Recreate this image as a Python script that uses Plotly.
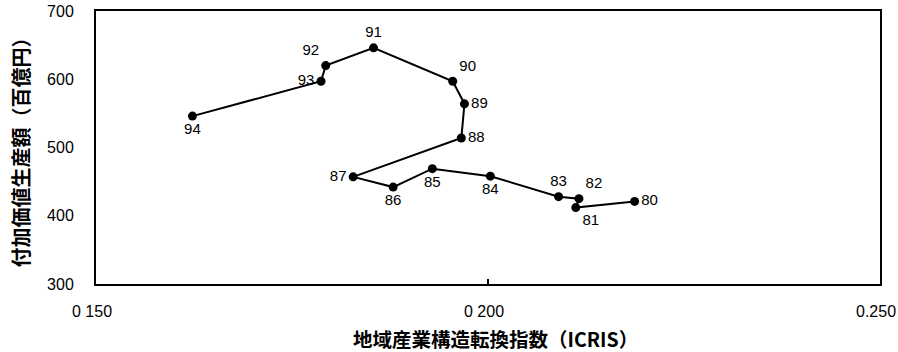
import plotly.graph_objects as go

years = ["80", "81", "82", "83", "84", "85", "86", "87", "88", "89", "90", "91", "92", "93", "94"]
icris = [0.2187, 0.2112, 0.2116, 0.2090, 0.2003, 0.1929, 0.1879, 0.1828, 0.1966, 0.1970, 0.1955, 0.1854, 0.1793, 0.1787, 0.1623]
value_added = [421, 412, 425, 428, 458, 469, 442, 457, 514, 564, 597, 646, 620, 597, 546]
label_pos = ["middle right", "bottom right", "top right", "top center", "bottom center",
             "bottom center", "bottom center", "middle left", "middle right", "middle right",
             "top right", "top center", "top left", "middle left", "bottom center"]

x_tickvals = [0.150, 0.200, 0.250]
x_ticktext = ["0 150", "0 200", "0.250"]
y_tickvals = [300, 400, 500, 600, 700]
y_ticktext = ["300", "400", "500", "600", "700"]

num_font = "Liberation Sans, Arial, sans-serif"
cjk_font = "Noto Sans CJK JP, sans-serif"

fig = go.Figure()
fig.add_trace(go.Scatter(
    x=icris, y=value_added, mode="lines+markers+text",
    text=years, textposition=label_pos,
    textfont=dict(family=num_font, size=15, color="black"),
    line=dict(color="black", width=2),
    marker=dict(color="black", size=9),
    showlegend=False, cliponaxis=False,
))

fig.update_layout(
    width=898, height=352,
    margin=dict(l=96, r=18, t=11, b=68),
    paper_bgcolor="white", plot_bgcolor="white",
    xaxis=dict(range=[0.150, 0.250], tickvals=x_tickvals, ticktext=x_ticktext,
               showgrid=False, zeroline=False, showline=True, mirror=True,
               linecolor="black", linewidth=2, ticks="inside", ticklen=5,
               tickcolor="black", tickwidth=1.5, ticklabelstandoff=12,
               ticklabelshift=-4, ticklabeloverflow="allow",
               tickfont=dict(family=num_font, size=16, color="black"),
               automargin=False),
    yaxis=dict(range=[300, 700], tickvals=y_tickvals, ticktext=y_ticktext,
               showgrid=False, zeroline=False, showline=True, mirror=True,
               linecolor="black", linewidth=2, ticks="", ticklabelstandoff=17,
               ticklabeloverflow="allow",
               tickfont=dict(family=num_font, size=16, color="black"),
               automargin=False),
    annotations=[
        dict(text="地域産業構造転換指数（ICRIS）", xref="paper", yref="paper",
             x=0.5, y=0, xshift=7, yshift=-54, xanchor="center", yanchor="middle",
             showarrow=False, font=dict(family=cjk_font, size=19.5, color="black", weight="bold")),
        dict(text="付加価値生産額（百億円）", xref="paper", yref="paper",
             x=0, y=0.5, xshift=-76, xanchor="center", yanchor="middle", textangle=-90,
             showarrow=False, font=dict(family=cjk_font, size=20, color="black", weight="bold")),
    ],
)

fig.write_html("out.html", config={"displayModeBar": False},
               post_script="document.body.style.margin='0';")
